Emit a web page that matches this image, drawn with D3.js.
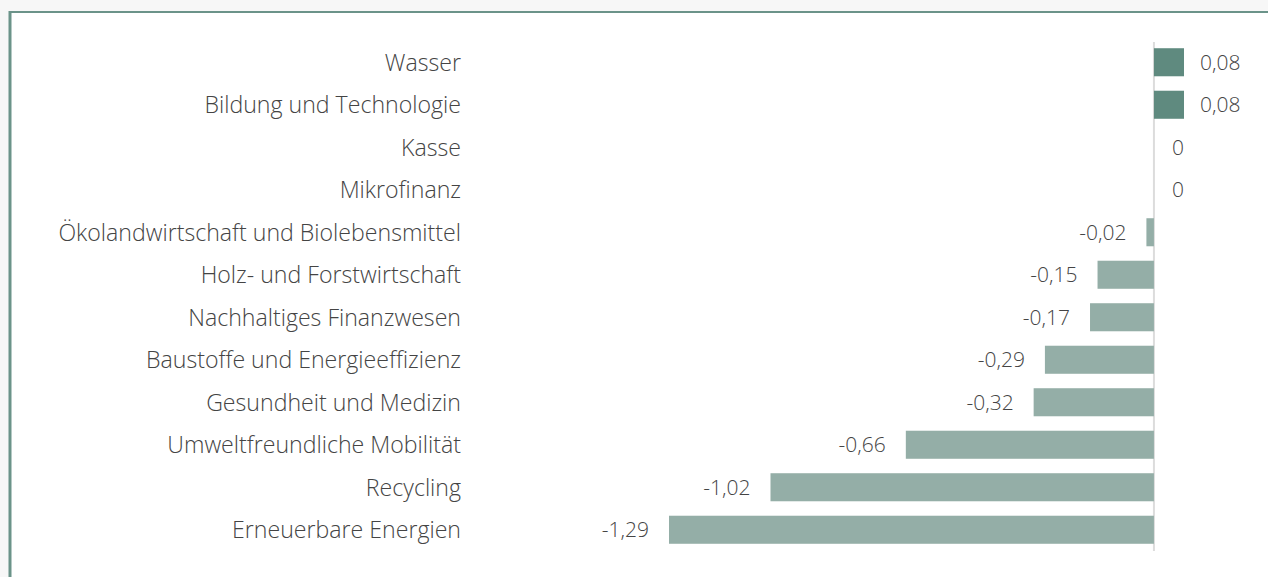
<!DOCTYPE html>
<html>
<head>
<meta charset="utf-8">
<script src="https://cdn.jsdelivr.net/npm/d3@7"></script>
<style>
  html, body { margin: 0; padding: 0; background: #f7f7f7; }
  svg { display: block; }
</style>
</head>
<body>
<svg id="chart"></svg>
<script>
// Data
const categories = [
    "Wasser",
    "Bildung und Technologie",
    "Kasse",
    "Mikrofinanz",
    "Ökolandwirtschaft und Biolebensmittel",
    "Holz- und Forstwirtschaft",
    "Nachhaltiges Finanzwesen",
    "Baustoffe und Energieeffizienz",
    "Gesundheit und Medizin",
    "Umweltfreundliche Mobilität",
    "Recycling",
    "Erneuerbare Energien"
];
const values = [0.08, 0.08, 0, 0, -0.02, -0.15, -0.17, -0.29, -0.32, -0.66, -1.02, -1.29];

function drawChart() {
    const W = 1268, H = 577;
    const font = "'Open Sans', 'Noto Sans', sans-serif";
    const svg = d3.select("#chart").attr("width", W).attr("height", H);

    // white panel with green frame on top and left
    svg.append("rect").attr("x", 11).attr("y", 12).attr("width", W - 11).attr("height", H - 12)
        .attr("fill", "#ffffff");
    svg.append("line").attr("x1", 10).attr("x2", W).attr("y1", 12).attr("y2", 12)
        .attr("stroke", "#6b9389").attr("stroke-width", 2);
    svg.append("line").attr("x1", 10).attr("x2", 10).attr("y1", 11).attr("y2", H)
        .attr("stroke", "#6b9389").attr("stroke-width", 3);

    const data = categories.map((c, i) => ({ name: c, value: values[i] }));

    const x = d3.scaleLinear().domain([-1.29, 0.08]).range([669, 1184]);
    const y = d3.scaleBand().domain(categories).range([41, 551]).paddingInner(0.34).paddingOuter(0.17);

    const fmt = v => d3.format(".2~f")(v).replace(".", ",").replace("−", "-");

    // zero line
    svg.append("line")
        .attr("x1", x(0)).attr("x2", x(0))
        .attr("y1", 42).attr("y2", 551)
        .attr("stroke", "#dcdcdc").attr("stroke-width", 2);

    // bars
    svg.append("g").selectAll("rect")
        .data(data)
        .join("rect")
        .attr("x", d => x(Math.min(0, d.value)))
        .attr("width", d => Math.abs(x(d.value) - x(0)))
        .attr("y", d => y(d.name))
        .attr("height", y.bandwidth())
        .attr("fill", d => d.value > 0 ? "#5f8a7f" : "#94aea7");

    // category labels
    const cat = svg.append("g").selectAll("text")
        .data(data)
        .join("text")
        .attr("x", 461)
        .attr("y", d => y(d.name) + y.bandwidth() / 2)
        .attr("dy", "0.36em")
        .attr("text-anchor", "end")
        .attr("fill", "#444")
        .style("font-family", font)
        .style("font-size", "20px")
        .style("font-weight", 300)
        .text(d => d.name);

    // size the labels so that together they take about the width they have in the original
    let total = 0;
    cat.each(function () { total += this.getComputedTextLength(); });
    const size = 20 * 2640 / total;
    cat.style("font-size", size + "px");

    // value labels
    svg.append("g").selectAll("text")
        .data(data)
        .join("text")
        .attr("x", d => d.value < 0 ? x(d.value) - 20 : x(d.value) + (d.value > 0 ? 16 : 18))
        .attr("y", d => y(d.name) + y.bandwidth() / 2)
        .attr("dy", "0.36em")
        .attr("text-anchor", d => d.value < 0 ? "end" : "start")
        .attr("fill", "#444")
        .style("font-family", font)
        .style("font-size", "21px")
        .style("font-weight", 300)
        .text(d => fmt(d.value));
}

drawChart();
</script>
</body>
</html>
